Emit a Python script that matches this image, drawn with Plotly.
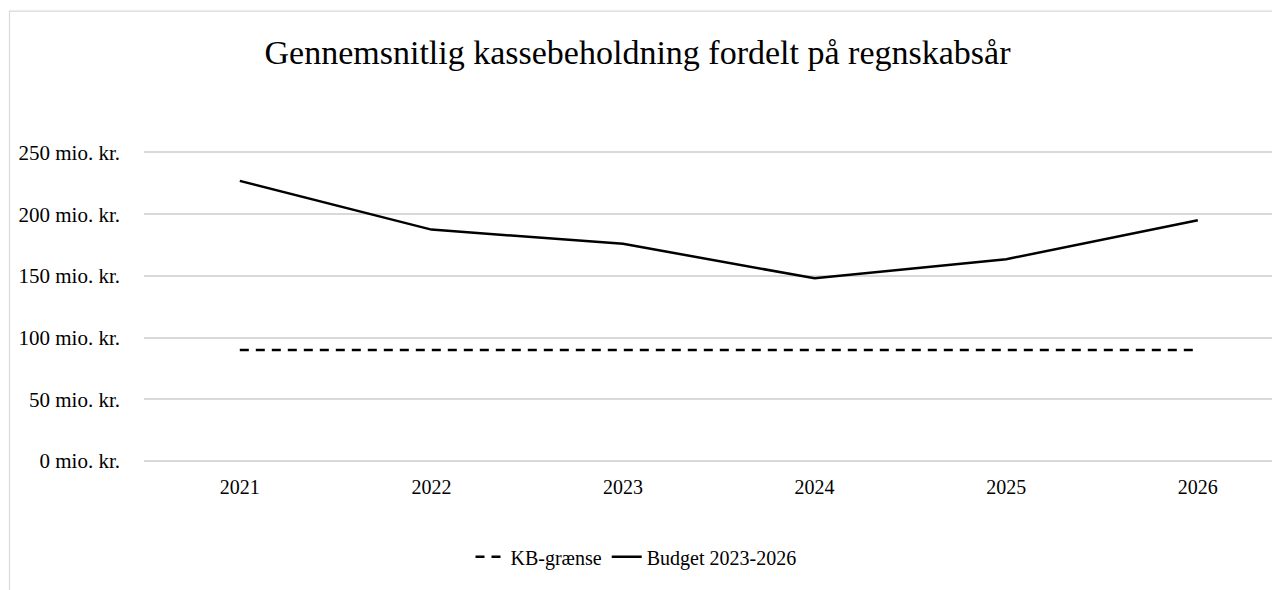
import plotly.graph_objects as go

years = ["2021", "2022", "2023", "2024", "2025", "2026"]
budget = [227, 187.5, 176, 148, 163.5, 195]
kb_graense = [90, 90, 90, 90, 90, 90]
y_ticks = [0, 50, 100, 150, 200, 250]
y_tick_labels = ["0 mio. kr.", "50 mio. kr.", "100 mio. kr.", "150 mio. kr.", "200 mio. kr.", "250 mio. kr."]

FONT = "Liberation Serif"
W, H = 1280, 590
OFF = 8  # page body margin offset
# target screen positions
plot_left, plot_bottom, y250_px = 144, 461, 152
band = 191.6
y_top_val = 252
px_per_unit = (plot_bottom - y250_px) / 250.0
plot_top = plot_bottom - y_top_val * px_per_unit

ML = plot_left - OFF
MR = 0
MT = plot_top - OFF
MB = H - (plot_bottom - OFF)
plot_w = W - ML - MR
plot_h = H - MT - MB

fig = go.Figure()
fig.add_trace(go.Scatter(
    x=years, y=kb_graense, mode="lines", name="KB-grænse",
    line=dict(color="black", width=2.5, dash="9px,7px"),
))
fig.add_trace(go.Scatter(
    x=years, y=budget, mode="lines", name="Budget 2023-2026",
    line=dict(color="black", width=2.5),
))

x_end = -0.5 + plot_w / band

def px_to_paper_x(px):
    return (px - OFF - ML) / plot_w

def px_to_paper_y(py):
    return (H - MB - (py - OFF)) / plot_h

fig.add_shape(
    type="rect", xref="paper", yref="paper",
    x0=px_to_paper_x(9.5), x1=px_to_paper_x(1320),
    y0=px_to_paper_y(640), y1=px_to_paper_y(10.5),
    line=dict(color="#d9d9d9", width=1.2), fillcolor="rgba(0,0,0,0)",
    layer="below",
)

fig.update_layout(
    width=W, height=H,
    margin=dict(l=ML, r=MR, t=MT, b=MB),
    paper_bgcolor="white", plot_bgcolor="white",
    font=dict(family=FONT, color="black", size=20),
    title=dict(
        text="Gennemsnitlig kassebeholdning fordelt på regnskabsår",
        x=(637.5 - OFF) / W, xanchor="center", y=1 - (52 - OFF) / H, yanchor="middle",
        font=dict(family=FONT, size=34, color="black"),
    ),
    showlegend=True,
    legend=dict(
        orientation="h", x=px_to_paper_x(636), xanchor="center",
        y=px_to_paper_y(557), yanchor="middle",
        font=dict(family=FONT, size=20, color="black"),
        bgcolor="rgba(0,0,0,0)",
    ),
    xaxis=dict(
        type="category", range=[-0.5, x_end],
        showgrid=False, showline=False, zeroline=False, ticks="",
        ticklabelstandoff=12,
        tickfont=dict(family=FONT, size=20, color="black"),
    ),
    yaxis=dict(
        range=[0, y_top_val], tickvals=y_ticks, ticktext=y_tick_labels,
        showgrid=True, gridcolor="#d9d9d9", gridwidth=1.5,
        zeroline=True, zerolinecolor="#d9d9d9", zerolinewidth=1.5,
        showline=False, ticks="", ticklabelstandoff=23,
        tickfont=dict(family=FONT, size=21, color="black"),
    ),
)

fig.write_html("out.html")
